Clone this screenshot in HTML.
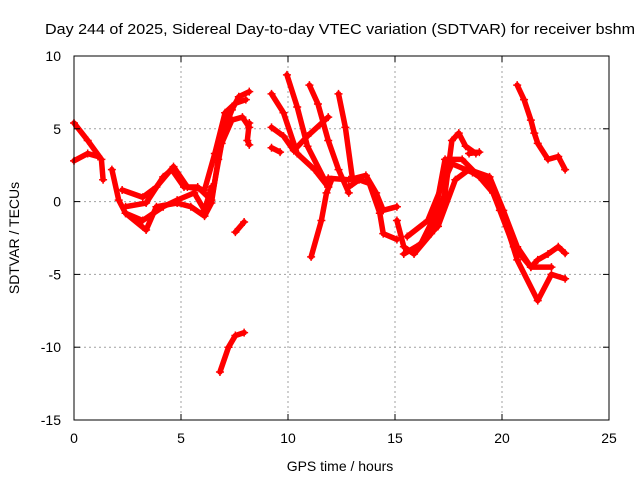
<!DOCTYPE html>
<html><head><meta charset="utf-8"><style>
html,body{margin:0;padding:0;background:#fff;}
svg{display:block;font-family:"Liberation Sans",sans-serif;}
</style></head><body>
<svg id="chart" width="640" height="480">
<text x="340" y="34" font-size="15" text-anchor="middle" textLength="590" lengthAdjust="spacingAndGlyphs">Day 244 of 2025, Sidereal Day-to-day VTEC variation (SDTVAR) for receiver bshm</text>
<text x="340" y="471" font-size="14" text-anchor="middle">GPS time / hours</text>
<text transform="translate(19,238) rotate(-90)" font-size="14" text-anchor="middle">SDTVAR / TECUs</text>
<g id="grid"></g><g id="marks"></g><g id="axes"></g>
</svg>
<script>
const xTicks=[0,5,10,15,20,25];
const yTicks=[10,5,0,-5,-10,-15];
const tA1=[[0,5.4],[0.64,4.2],[1.28,2.9],[1.36,1.5]];
const tA2=[[0,2.8],[0.64,3.3],[1.12,3.1]];
const tB=[[1.77,2.2],[2.09,0.1],[2.41,-0.8],[3.37,-1.95],[3.85,-0.35],[4.82,-0.1],[5.46,-0.35],[6.1,-1.0],[6.42,-0.1],[6.74,2.9],[7.06,5.1],[7.38,6.3],[7.7,7.2],[8.19,7.55]];
const tC=[[2.25,0.8],[3.21,0.3],[3.85,1.0],[4.65,2.4],[5.3,1.0],[6.1,0.8],[6.58,3.3],[7.06,6.1],[7.54,6.75],[8.03,7.0]];
const tD=[[2.41,-0.35],[3.37,-0.1],[4.17,1.7],[4.57,2.2],[5.14,1.0],[5.78,1.0],[6.42,0.1],[6.9,4.0],[7.38,5.6],[7.87,5.8],[8.19,5.1]];
const tE=[[2.41,-0.8],[3.21,-1.3],[4.17,-0.35],[4.82,0.1],[5.62,0.6],[6.1,-0.6],[6.42,1.0]];
const tF=[[7.54,-2.1],[7.95,-1.4]];
const tG=[[6.82,-11.7],[7.22,-10.0],[7.54,-9.2],[7.95,-9.0]];
const tH=[[8.19,5.4],[8.1,4.2],[8.19,3.9]];
const tS1=[[9.95,8.7],[10.43,6.5],[10.91,3.8],[11.88,1.0]];
const tS2=[[11.0,8.0],[11.4,6.7],[11.88,4.2],[12.36,2.2],[12.84,0.6]];
const tS3=[[12.36,7.4],[12.68,5.1],[13.0,1.7]];
const tS4=[[9.23,7.4],[9.79,6.1],[10.43,3.3],[11.24,2.2],[11.88,1.0]];
const tS5=[[9.23,5.1],[9.79,4.5],[10.27,3.5],[10.91,4.5],[11.88,5.8]];
const tS6=[[9.23,3.7],[9.63,3.4]];
const tU=[[11.08,-3.8],[11.56,-1.3],[11.8,0.6],[12.04,1.5]];
const tM=[[11.88,1.6],[12.84,1.5],[13.64,1.8],[14.12,0.6],[14.45,-0.6],[15.09,-0.35]];
const tM2=[[12.84,1.0],[13.32,1.5],[13.8,1.25],[14.29,-0.8],[14.45,-2.2],[15.09,-2.6]];
const tW1=[[15.09,-1.3],[15.41,-3.1],[15.89,-3.6],[16.69,-2.2],[17.34,0.6],[17.66,4.2],[17.98,4.7],[18.3,3.8],[18.78,3.3]];
const tW2=[[15.41,-3.6],[16.21,-2.9],[16.85,-1.0],[17.34,2.9],[18.14,2.9],[18.94,1.7],[19.58,0.6],[20.22,-1.7],[20.71,-4.0],[21.67,-6.8],[22.31,-5.0],[22.95,-5.3]];
const tW3=[[15.57,-2.4],[16.53,-1.3],[17.17,1.0],[17.66,2.6],[18.62,2.0],[19.42,1.25],[19.9,-0.6],[20.55,-3.1],[21.35,-4.5],[21.67,-4.0],[22.15,-3.6],[22.63,-3.1],[22.95,-3.55]];
const tW4=[[16.05,-3.1],[17.01,-1.7],[17.82,1.5],[18.46,2.2],[19.42,1.7],[20.06,-0.6],[20.71,-3.1],[21.35,-4.5],[22.31,-4.5]];
const tW5=[[18.46,3.3],[18.94,3.4]];
const tR=[[20.71,8.0],[21.03,7.0],[21.35,5.6],[21.51,4.7],[21.67,4.0],[22.15,2.9],[22.63,3.1],[22.95,2.2]];
const tracks=[tA1,tA2,tB,tC,tD,tE,tF,tG,tH,tS1,tS2,tS3,tS4,tS5,tS6,tU,tM,tM2,tW1,tW2,tW3,tW4,tW5,tR];

const L=74,R=609,T=56,B=420;
const xs=t=>L+(t-0)/(25-0)*(R-L);
const ys=v=>T+(10-v)/(10-(-15))*(B-T);
const NS="http://www.w3.org/2000/svg";
function mk(tag,parent){const e=document.createElementNS(NS,tag);parent.appendChild(e);return e;}
const grid=document.getElementById('grid'),marks=document.getElementById('marks'),axes=document.getElementById('axes');
xTicks.forEach(t=>{
  const x=xs(t);
  if(t>0&&t<25){const g=mk('line',grid);g.setAttribute('x1',x);g.setAttribute('x2',x);g.setAttribute('y1',T);g.setAttribute('y2',B);g.setAttribute('stroke','#a0a0a0');g.setAttribute('stroke-dasharray','2,3');
  
  }
  [[B,B-6],[T,T+6]].forEach(p=>{const k=mk('line',axes);k.setAttribute('x1',x);k.setAttribute('x2',x);k.setAttribute('y1',p[0]);k.setAttribute('y2',p[1]);k.setAttribute('stroke','#000');
  
  });
  const lb=mk('text',axes);lb.setAttribute('x',x);lb.setAttribute('y',443);lb.setAttribute('font-size','14');lb.setAttribute('text-anchor','middle');lb.textContent=t;
  
  
});
yTicks.forEach(v=>{
  const y=ys(v);
  if(v<10&&v>-15){const g=mk('line',grid);g.setAttribute('x1',L);g.setAttribute('x2',R);g.setAttribute('y1',y);g.setAttribute('y2',y);g.setAttribute('stroke','#a0a0a0');g.setAttribute('stroke-dasharray','2,3');
  
  }
  [[L,L+6],[R,R-6]].forEach(p=>{const k=mk('line',axes);k.setAttribute('x1',p[0]);k.setAttribute('x2',p[1]);k.setAttribute('y1',y);k.setAttribute('y2',y);k.setAttribute('stroke','#000');
  
  });
  const lb=mk('text',axes);lb.setAttribute('x',61);lb.setAttribute('y',y+5);lb.setAttribute('font-size','14');lb.setAttribute('text-anchor','end');lb.textContent=v;
  
  
});
const fr=mk('rect',axes);fr.setAttribute('x',L);fr.setAttribute('y',T);fr.setAttribute('width',R-L);fr.setAttribute('height',B-T);fr.setAttribute('fill','none');fr.setAttribute('stroke','#000');


tracks.forEach(tr=>{
  const pl=mk('polyline',marks);
  pl.setAttribute('points',tr.map(p=>xs(p[0])+','+ys(p[1])).join(' '));
  pl.setAttribute('fill','none');pl.setAttribute('stroke','#f00');pl.setAttribute('stroke-width','5.5');pl.setAttribute('stroke-linejoin','round');pl.setAttribute('stroke-linecap','round');
  
  
  tr.forEach(p=>{
    const m=mk('path',marks);const x=xs(p[0]),y=ys(p[1]);
    m.setAttribute('d',`M${x-4},${y}H${x+4}M${x},${y-4}V${y+4}`);
    m.setAttribute('stroke','#f00');m.setAttribute('stroke-width','1.5');
    
    
  });
});
</script>
</body></html>
